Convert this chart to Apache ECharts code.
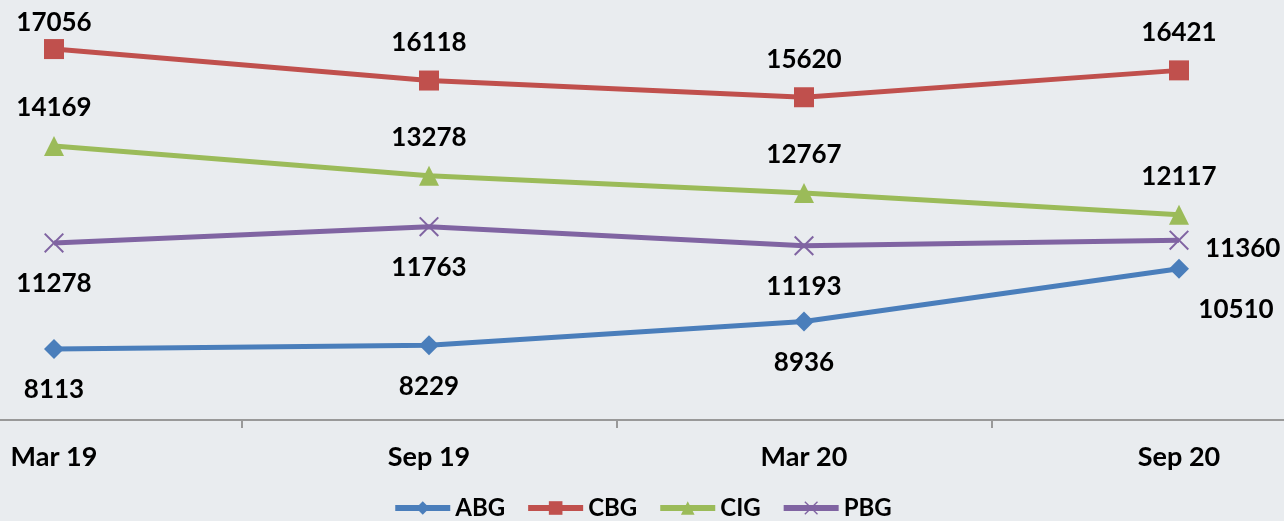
<!DOCTYPE html>
<html><head><meta charset="utf-8">
<script src="https://cdn.jsdelivr.net/npm/echarts@6/dist/echarts.min.js"></script>
<style>html,body{margin:0;padding:0;background:#e9ecef;}#c{width:1284px;height:521px;}</style>
</head><body><div id="c"></div>
<script>
const categories = ['Mar 19', 'Sep 19', 'Mar 20', 'Sep 20'];
const seriesNames = ['ABG', 'CBG', 'CIG', 'PBG'];
const abg = [8113, 8229, 8936, 10510];
const cbg = [17056, 16118, 15620, 16421];
const cig = [14169, 13278, 12767, 12117];
const pbg = [11278, 11763, 11193, 11360];

const FONT = 'Lato';
const crossPath = 'path://M0,7L7,0L50,43L93,0L100,7L57,50L100,93L93,100L50,57L7,100L0,93L43,50Z';
const colors = ['#4a7ebb', '#c0504d', '#9bbb59', '#8064a2'];
const labelBase = { show: true, color: '#000', fontFamily: FONT, fontWeight: 'bold', fontSize: 26 };

function mk(name, vals, symbol, color, pos, dist, overrides) {
  return {
    name, type: 'line', data: vals.map((v, i) => overrides && overrides[i] ? { value: v, label: overrides[i] } : v),
    symbol, symbolSize: 20, color,
    lineStyle: { width: 5, color },
    itemStyle: { color },
    label: Object.assign({}, labelBase, { position: pos, distance: dist }),
    z: 3
  };
}

const chart = echarts.init(document.getElementById('c'));
chart.setOption({
  backgroundColor: '#e9ecef',
  animation: false,
  color: colors,
  grid: { left: -133.5, right: -82.5, top: 17.4, bottom: 101, containLabel: false, outerBoundsMode: 'none' },
  legend: {
    top: 491, left: 'center',
    itemWidth: 55, itemHeight: 17, itemGap: 20,
    lineStyle: { width: 6 },
    textStyle: { fontFamily: FONT, fontWeight: 'bold', fontSize: 24, color: '#000' },
    data: seriesNames
  },
  xAxis: {
    type: 'category', data: categories, boundaryGap: true,
    axisLine: { lineStyle: { color: '#999', width: 2 } },
    axisTick: { show: true, length: 8, lineStyle: { color: '#999', width: 2 } },
    axisLabel: { margin: 24, fontFamily: FONT, fontWeight: 'bold', fontSize: 27, color: '#000' }
  },
  yAxis: {
    type: 'value', min: 6000, max: 18000, interval: 2000,
    show: false, splitLine: { show: false }
  },
  series: [
    mk('ABG', abg, 'diamond', colors[0], 'bottom', 18, { 3: { offset: [57, 0] } }),
    mk('CBG', cbg, 'rect', colors[1], 'top', 15, { 0: { distance: 3 } }),
    mk('CIG', cig, 'triangle', colors[2], 'top', 15),
    mk('PBG', pbg, crossPath, colors[3], 'bottom', 18, { 3: { position: 'right', distance: 16, offset: [0, 8] } })
  ]
});
</script></body></html>
